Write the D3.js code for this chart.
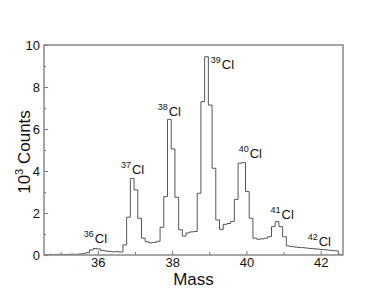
<!DOCTYPE html>
<html lang="en">
<head>
    <meta charset="UTF-8">
    <title>Cl mass spectrum</title>
    <style>
        body { margin: 0; background: #fff; }
        text { font-family: "Liberation Sans", Arial, Helvetica, sans-serif; fill: #111; }
    </style>
</head>
<body>
<script src="https://d3js.org/d3.v7.min.js"></script>
<script>
    // histogram bins (mass units) and counts (in 10^3)
    const binStart = 34.575;
    const binWidth = 0.1;
    const counts = [
        0.02, 0.03, 0.02, 0.03, 0.03, 0.02, 0.03, 0.04, 0.03, 0.05, 0.06,
        0.11, 0.24, 0.31, 0.29, 0.21, 0.19, 0.17, 0.15, 0.16, 0.14,
        0.48, 1.80, 3.65, 3.10, 1.75, 0.80, 0.63, 0.58, 0.60, 0.65,
        1.32, 2.78, 6.46, 5.05, 2.75, 1.20, 0.90, 1.05, 1.10, 1.12,
        2.94, 7.30, 9.44, 7.14, 4.13, 1.67, 1.22, 1.46, 1.50, 1.60,
        2.65, 4.37, 4.40, 3.02, 1.75, 0.80, 0.75, 0.77, 0.80, 0.87,
        1.35, 1.59, 1.35, 0.87, 0.43, 0.40, 0.38, 0.36, 0.35, 0.33,
        0.31, 0.30, 0.28, 0.26, 0.25, 0.23, 0.21, 0.20, 0.03
    ];

    // isotope labels: mass number, label position (mass, 10^3 counts)
    const isotopes = ['36', '37', '38', '39', '40', '41', '42'];
    const labelMass = [35.62, 36.62, 37.61, 39.04, 39.79, 40.65, 41.65];
    const labelCount = [0.57, 3.86, 6.62, 8.86, 4.62, 1.71, 0.43];

    const xTicks = [36, 38, 40, 42];
    const xMinorTicks = [35, 37, 39, 41];
    const yTicks = [0, 2, 4, 6, 8, 10];
    const yMinorTicks = [1, 3, 5, 7, 9];

    const width = 388, height = 300;
    const margin = {top: 45, right: 45, bottom: 45, left: 44};

    const svg = d3.select('body').append('svg')
        .attr('width', width)
        .attr('height', height);

    const x = d3.scaleLinear()
        .domain([34.55, 42.6])
        .range([margin.left, width - margin.right]);

    const y = d3.scaleLinear()
        .domain([0, 10])
        .range([height - margin.bottom, margin.top]);

    svg.append('clipPath').attr('id', 'plot')
        .append('rect')
        .attr('x', margin.left)
        .attr('y', margin.top)
        .attr('width', width - margin.left - margin.right)
        .attr('height', height - margin.top - margin.bottom);

    // step line
    const points = counts.map((c, i) => [binStart + i * binWidth, c]);
    points.push([binStart + counts.length * binWidth, 0]);

    const line = d3.line()
        .x(d => x(d[0]))
        .y(d => y(d[1]))
        .curve(d3.curveStepAfter);

    svg.append('path')
        .datum(points)
        .attr('clip-path', 'url(#plot)')
        .attr('d', line)
        .attr('fill', 'none')
        .attr('stroke', '#555')
        .attr('stroke-width', 1);

    // axes, ticks pointing inward
    svg.append('g')
        .attr('transform', `translate(0,${height - margin.bottom})`)
        .call(d3.axisBottom(x).tickValues(xTicks).tickSize(-4).tickPadding(3).tickFormat(d3.format('d')));
    svg.append('g')
        .attr('transform', `translate(0,${height - margin.bottom})`)
        .call(d3.axisBottom(x).tickValues(xMinorTicks).tickSize(-3).tickFormat(''));

    svg.append('g')
        .attr('transform', `translate(${margin.left},0)`)
        .call(d3.axisLeft(y).tickValues(yTicks).tickSize(-4).tickPadding(4).tickFormat(d3.format('d')));
    svg.append('g')
        .attr('transform', `translate(${margin.left},0)`)
        .call(d3.axisLeft(y).tickValues(yMinorTicks).tickSize(-2).tickFormat(''));

    svg.selectAll('.domain').remove();
    svg.selectAll('.tick line').attr('stroke', '#777');
    svg.selectAll('.tick text').attr('font-size', 13).attr('fill', '#111');

    // frame
    svg.append('rect')
        .attr('x', margin.left)
        .attr('y', margin.top)
        .attr('width', width - margin.left - margin.right)
        .attr('height', height - margin.top - margin.bottom)
        .attr('fill', 'none')
        .attr('stroke', '#888')
        .attr('stroke-width', 1.5);

    // isotope labels
    const labels = svg.selectAll('.iso')
        .data(isotopes)
        .enter().append('text')
        .attr('class', 'iso')
        .attr('x', (d, i) => x(labelMass[i]))
        .attr('y', (d, i) => y(labelCount[i]));
    labels.append('tspan')
        .attr('font-size', 9)
        .attr('dy', -6)
        .text(d => d);
    labels.append('tspan')
        .attr('font-size', 13)
        .attr('dy', 6)
        .attr('dx', 1)
        .text('Cl');

    // axis titles
    svg.append('text')
        .attr('x', (margin.left + width - margin.right) / 2)
        .attr('y', 285)
        .attr('text-anchor', 'middle')
        .attr('font-size', 17)
        .text('Mass');

    const yLabel = svg.append('text')
        .attr('transform', 'translate(30,152) rotate(-90)')
        .attr('text-anchor', 'middle')
        .attr('font-size', 17);
    yLabel.append('tspan').text('10');
    yLabel.append('tspan').attr('font-size', 11).attr('dy', -7).text('3');
    yLabel.append('tspan').attr('dy', 7).text(' Counts');
</script>
</body>
</html>
